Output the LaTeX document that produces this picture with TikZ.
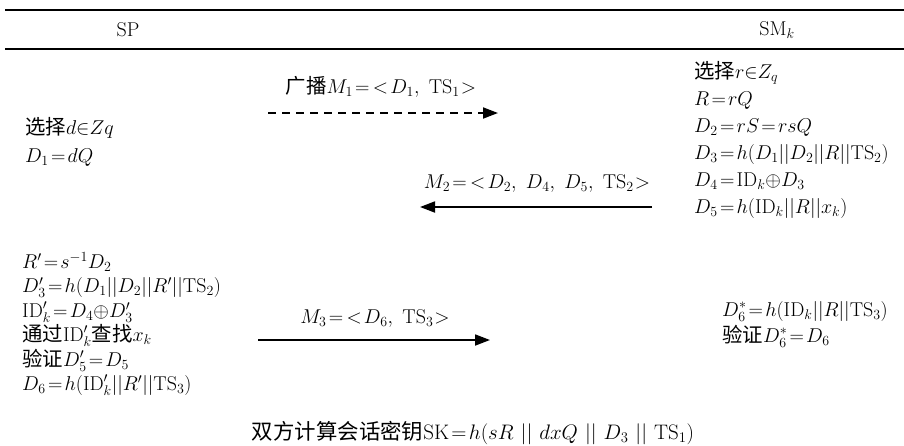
\RequirePackage{fix-cm}
\documentclass[tikz,border=0pt]{standalone}
\usepackage{fontspec}
\newfontfamily\cjk[Scale=1.02]{Noto Sans CJK SC}
\usetikzlibrary{arrows.meta}
\newcommand{\zh}[1]{{\cjk #1}}
\newcommand{\TS}{\mathrm{TS}}
\newcommand{\ID}{\mathrm{ID}}
% tightly set relations, as in the printed formulas
\newcommand{\eq}{\mathrel{\mkern-3mu=\mkern-3mu}}
\newcommand{\msgopen}{\mkern2mu{=}\mkern3mu{<}\mkern2mu}
\newcommand{\msgclose}{\mkern1mu{>}}
\newcommand{\cc}{\mkern6mu||\mkern6mu}

\begin{document}
\begin{tikzpicture}[x=1pt,y=-1pt,
  txt/.style={inner sep=0pt,font=\fontsize{20}{27}\selectfont},
  block/.style={txt,align=left,anchor=north west},
  msg/.style={line width=1.8pt,-{Triangle[length=15pt,width=11pt]}},
  rule/.style={line width=2pt}]
\useasboundingbox (0,0) rectangle (904,445);

% table rules and column heads
\draw[rule] (5,10) -- (904,10);
\draw[rule] (5,48.5) -- (904,48.5);
\node[txt] (sp) at (128,30) {SP};
\node[txt] (smk) at (777,30) {SM$_k$};

% server side computations
\node[block,font=\fontsize{20}{28}\selectfont] (spInit) at (25,117)
  {\zh{选择}$d{\in}Zq$\\ $D_1\eq dQ$};
\node[block,font=\fontsize{20}{24.4}\selectfont] (spVerify) at (22,252)
  {$R'\eq s^{-1}D_2$\\
   $D_3'\eq h(D_1||D_2||R'||\TS_2)$\\
   $\ID_k'\eq D_4{\oplus}D_3'$\\
   \zh{通过}$\ID_k'$\zh{查找}$x_k$\\
   \zh{验证}$D_5'\eq D_5$\\
   $D_6\eq h(\ID_k'||R'||\TS_3)$};

% smart meter computations
\node[block] (smInit) at (694,61)
  {\zh{选择}$r{\in}Z_q$\\
   $R\eq rQ$\\
   $D_2\eq rS\eq rsQ$\\
   $D_3\eq h(D_1||D_2||R||\TS_2)$\\
   $D_4\eq\ID_k{\oplus}D_3$\\
   $D_5\eq h(\ID_k||R||x_k)$};
\node[block,font=\fontsize{20}{26}\selectfont] (smVerify) at (722,301)
  {$D_6^*\eq h(\ID_k||R||\TS_3)$\\
   \zh{验证}$D_6^*\eq D_6$};

% session key
\node[txt,font=\fontsize{21}{26}\selectfont] (key) at (473,433)
  {\zh{双方计算会话密钥}$\mathrm{SK}\eq h(sR\cc dxQ\cc D_3\cc\TS_1)$};

% messages
\node[txt] (m1) at (381,87) {\zh{广播}$M_1\msgopen D_1,\ \TS_1\msgclose$};
\node[txt] (m2) at (537,183) {$M_2\msgopen D_2,\ D_4,\ D_5,\ \TS_2\msgclose$};
\node[txt] (m3) at (375,318) {$M_3\msgopen D_6,\ \TS_3\msgclose$};

\coordinate (m1s) at (268,113);
\coordinate (m1e) at (498,113);
\coordinate (m2s) at (652,207);
\coordinate (m2e) at (420,207);
\coordinate (m3s) at (258,340);
\coordinate (m3e) at (490,340);

\draw[msg,dash pattern=on 8pt off 6pt] (m1s) -- (m1e);
\draw[msg] (m2s) -- (m2e);
\draw[msg] (m3s) -- (m3e);
\end{tikzpicture}
\end{document}
